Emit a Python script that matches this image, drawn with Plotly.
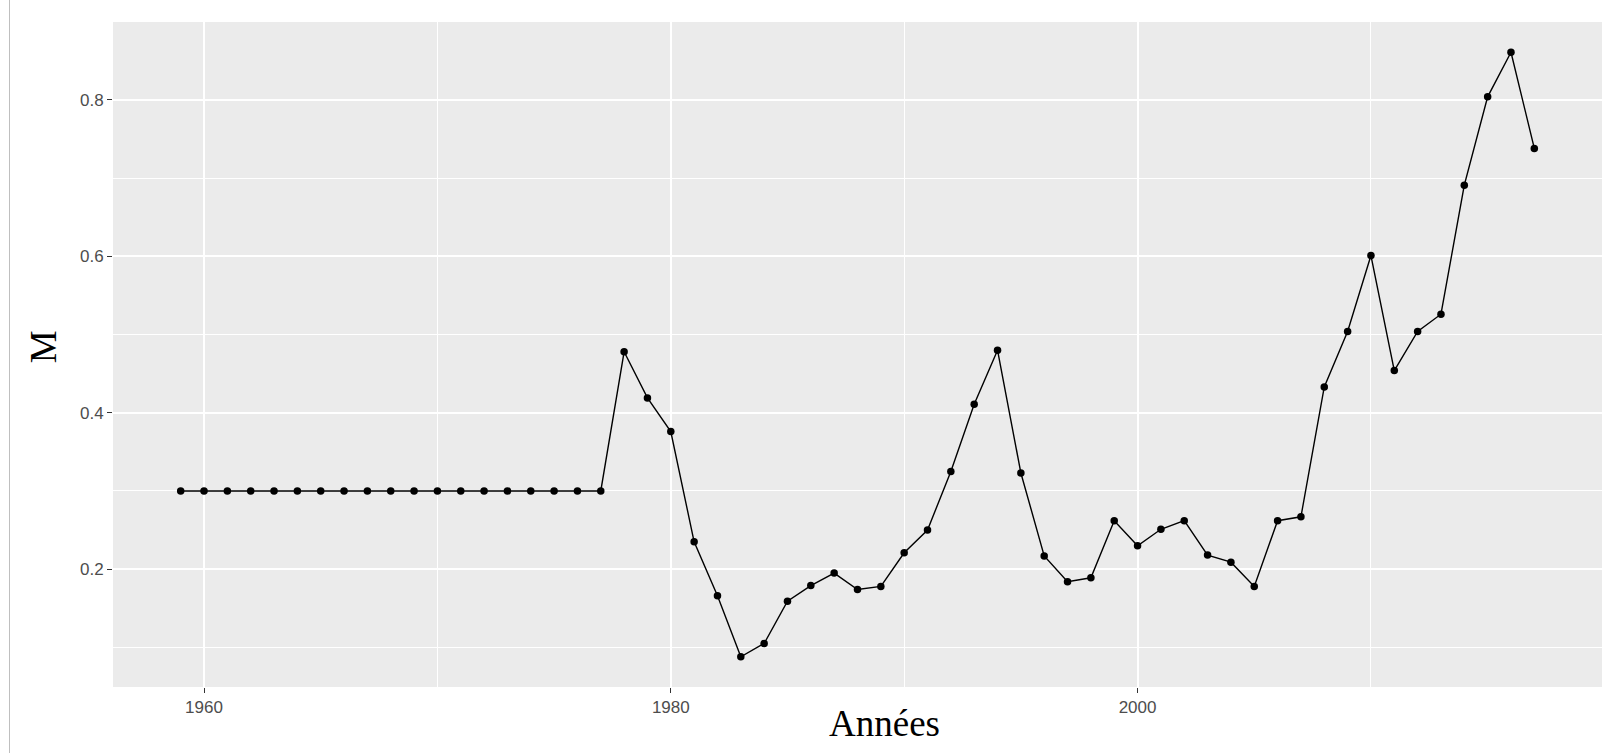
import plotly.graph_objects as go

# Annual series of M
years = list(range(1959, 2018))
m_values = [
    0.300, 0.300, 0.300, 0.300, 0.300, 0.300, 0.300, 0.300, 0.300, 0.300,  # 1959-1968
    0.300, 0.300, 0.300, 0.300, 0.300, 0.300, 0.300, 0.300, 0.300,         # 1969-1977
    0.478, 0.419, 0.376, 0.235, 0.166, 0.088, 0.105, 0.159, 0.179, 0.195,  # 1978-1987
    0.174, 0.178, 0.221, 0.250, 0.325, 0.411, 0.480, 0.323, 0.217, 0.184,  # 1988-1997
    0.189, 0.262, 0.230, 0.251, 0.262, 0.218, 0.209, 0.178, 0.262, 0.267,  # 1998-2007
    0.433, 0.504, 0.601, 0.454, 0.504, 0.526, 0.691, 0.804, 0.861, 0.738,  # 2008-2017
]

x_ticks = [1960, 1980, 2000]
y_ticks = [0.2, 0.4, 0.6, 0.8]


def expanded(lo, hi, frac=0.05):
    pad = (hi - lo) * frac
    return [lo - pad, hi + pad]


fig = go.Figure()
fig.add_trace(go.Scatter(
    x=years, y=m_values,
    mode="lines+markers",
    line=dict(color="black", width=1.4),
    marker=dict(color="black", size=7.5),
    showlegend=False,
))

tick_font = dict(family="Liberation Sans, Arial, sans-serif", size=17, color="#4D4D4D")
title_font = dict(family="Liberation Serif, Times New Roman, serif", size=37, color="black")

fig.update_layout(
    width=1614, height=753,
    margin=dict(l=113, r=12, t=22, b=66),
    paper_bgcolor="white",
    plot_bgcolor="#EBEBEB",
    xaxis=dict(
        range=expanded(min(years), max(years)),
        tickmode="array", tickvals=x_ticks, ticktext=[str(v) for v in x_ticks],
        ticks="outside", ticklen=5, tickwidth=1.3, tickcolor="#333333",
        tickfont=tick_font,
        showgrid=True, gridcolor="white", gridwidth=1.6,
        minor=dict(tickmode="array", tickvals=[1970, 1990, 2010],
                   showgrid=True, gridcolor="white", gridwidth=0.9, ticks=""),
        zeroline=False, showline=False,
    ),
    yaxis=dict(
        range=expanded(min(m_values), max(m_values)),
        tickmode="array", tickvals=y_ticks, ticktext=[f"{v:.1f}" for v in y_ticks],
        ticks="outside", ticklen=5, tickwidth=1.3, tickcolor="#333333",
        tickfont=tick_font,
        showgrid=True, gridcolor="white", gridwidth=1.6,
        minor=dict(tickmode="array", tickvals=[0.1, 0.3, 0.5, 0.7],
                   showgrid=True, gridcolor="white", gridwidth=0.9, ticks=""),
        zeroline=False, showline=False,
    ),
    annotations=[
        dict(text="Années", xref="paper", yref="paper", x=0.518, y=0,
             xanchor="center", yanchor="middle", yshift=-36,
             showarrow=False, font=title_font),
        dict(text="M", xref="paper", yref="paper", x=0, y=0.511,
             xanchor="center", yanchor="middle", xshift=-70, textangle=-90,
             showarrow=False, font=title_font),
    ],
    shapes=[
        dict(type="line", xref="paper", yref="paper",
             x0=-0.0695, x1=-0.0695, y0=-0.1, y1=1.035,
             line=dict(color="#BFBFBF", width=1)),
    ],
)

fig.write_html("out.html")
